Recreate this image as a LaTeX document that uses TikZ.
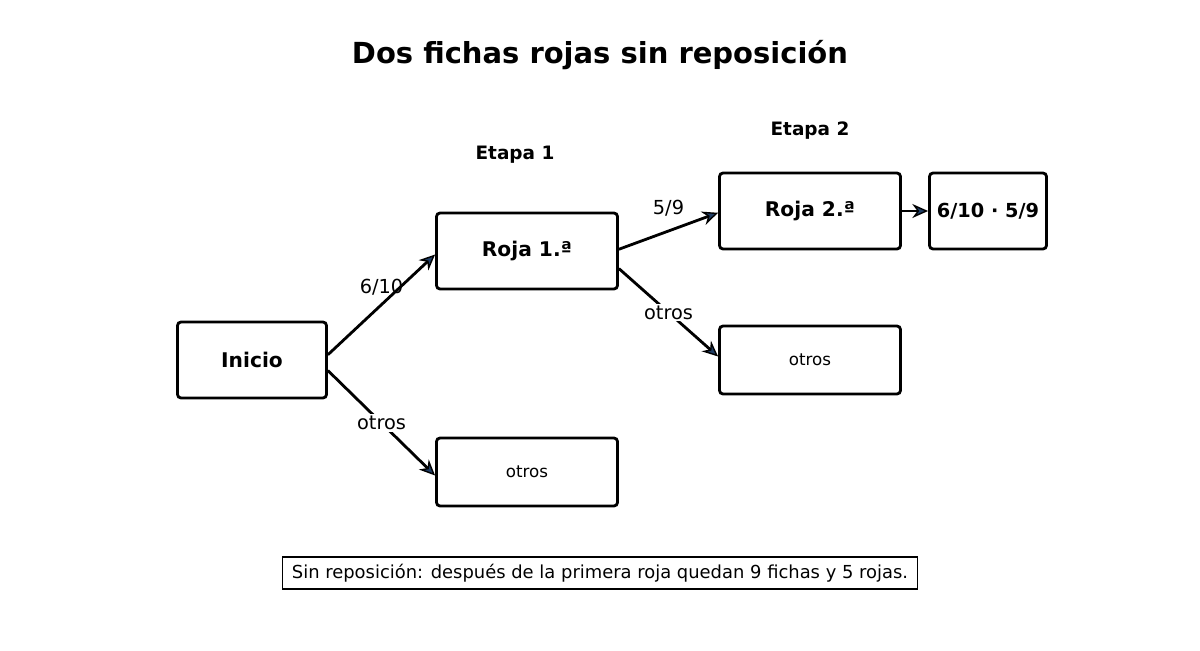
\documentclass[tikz,border=0pt]{standalone}
\usepackage{fontspec}
\setmainfont{DejaVu Sans}
\usetikzlibrary{arrows.meta}
\definecolor{tipblue}{RGB}{30,60,100}
\tikzset{
  box/.style={draw, line width=1.6pt, rounded corners=2pt, minimum height=#1*0.02cm, inner sep=0pt},
  flow/.style={-{Stealth[length=9pt, width=8pt, fill=tipblue, line width=0.8pt]}, line width=1.6pt},
  lbl/.style={font=\fontsize{11}{13}\selectfont},
}
\begin{document}
\begin{tikzpicture}[x=0.02cm, y=-0.02cm]
        \useasboundingbox (0,0) rectangle (1200,650);
        \node[font=\bfseries\fontsize{16.5}{19}\selectfont] (title) at (600,55) {Dos fichas rojas sin reposición};
        \node[font=\bfseries\fontsize{10.5}{13}\selectfont] (et1) at (515,155) {Etapa 1};
        \node[font=\bfseries\fontsize{10.5}{13}\selectfont] (et2) at (810,131) {Etapa 2};

        \node[box=76, minimum width=149*0.02cm, font=\bfseries\fontsize{11.5}{14}\selectfont] (inicio) at (252,360) {Inicio};
        \node[box=76, minimum width=181*0.02cm, font=\bfseries\fontsize{11.5}{14}\selectfont] (roja1) at (527,251) {Roja 1.ª};
        \node[box=68, minimum width=181*0.02cm, font=\fontsize{9.5}{12}\selectfont] (otros1) at (527,472) {otros};
        \node[box=76, minimum width=181*0.02cm, font=\bfseries\fontsize{11.5}{14}\selectfont] (roja2) at (810,211) {Roja 2.ª};
        \node[box=68, minimum width=181*0.02cm, font=\fontsize{9.5}{12}\selectfont] (otros2) at (810,360) {otros};
        \node[box=76, minimum width=117*0.02cm, font=\bfseries\fontsize{11}{14}\selectfont] (res) at (988,211) {6/10 · 5/9};

        \draw[flow] ([yshift=3pt]inicio.east) -- node[lbl, pos=0.5, above, yshift=1pt] {6/10} ([yshift=-2pt]roja1.west);
        \draw[flow] ([yshift=-6pt]inicio.east) -- node[lbl, fill=white, inner sep=1pt] {otros} ([yshift=-2pt]otros1.west);
        \draw[flow] ([yshift=1pt]roja1.east) -- node[lbl, pos=0.5, above, yshift=4pt] {5/9} ([yshift=-1pt]roja2.west);
        \draw[flow] ([yshift=-10pt]roja1.east) -- node[lbl, fill=white, inner sep=1pt] {otros} ([yshift=2pt]otros2.west);
        \draw[flow] (roja2) -- (res);

        \node[draw, line width=0.6pt, minimum width=635*0.02cm, minimum height=32*0.02cm, font=\fontsize{10.2}{13}\selectfont] (nota) at (600,573) {Sin reposición: después de la primera roja quedan 9 fichas y 5 rojas.};
\end{tikzpicture}
\end{document}
